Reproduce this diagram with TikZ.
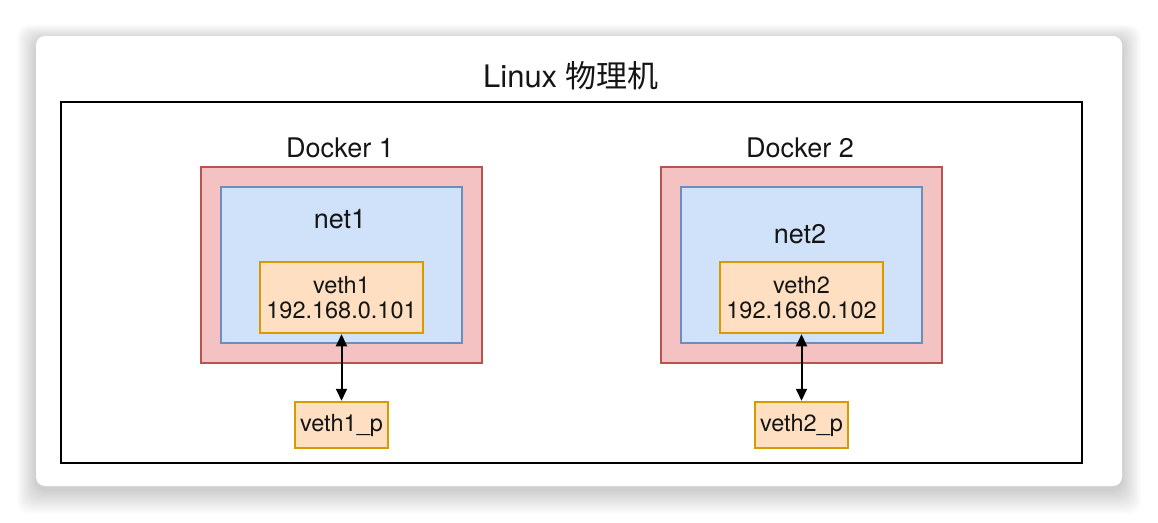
\documentclass[tikz,border=0pt]{standalone}
\usepackage{fontspec}
\setmainfont{TeX Gyre Heros}
\newfontfamily\cjk{Noto Sans CJK SC}
\usetikzlibrary{arrows.meta}
\definecolor{redfill}{HTML}{F4C2C2}
\definecolor{redline}{HTML}{B85450}
\definecolor{bluefill}{HTML}{D0E2F9}
\definecolor{blueline}{HTML}{6C8EBF}
\definecolor{orfill}{HTML}{FFDFC2}
\definecolor{orline}{HTML}{D79B00}
\definecolor{txt}{HTML}{151515}
\tikzset{
  dockerbox/.style={draw=redline, fill=redfill, line width=1.5pt},
  netbox/.style={draw=blueline, fill=bluefill, line width=1.5pt},
  vethbox/.style={draw=orline, fill=orfill, line width=1.5pt},
  bigtxt/.style={font=\fontsize{27}{30}\selectfont, text=txt, anchor=base, inner sep=0pt},
  vethtxt/.style={font=\fontsize{23.5}{25}\selectfont, text=txt, align=center, inner sep=0pt},
  link/.style={line width=2pt, {Triangle[length=12pt,width=11pt]}-{Triangle[length=12pt,width=11pt]}, shorten <=0.5pt, shorten >=0.5pt}
}
\begin{document}
\begin{tikzpicture}[x=1pt,y=-1pt]
\useasboundingbox (0,0) rectangle (1158,522);
% shadow of the card
\foreach \i in {1,...,24}{
  \pgfmathsetmacro{\xa}{36-0.8*\i}
  \pgfmathsetmacro{\ya}{40-0.65*\i}
  \pgfmathsetmacro{\xb}{1122+0.8*\i}
  \pgfmathsetmacro{\yb}{490+1.0*\i}
  \fill[black, opacity=0.009, rounded corners=12pt] (\xa,\ya) rectangle (\xb,\yb);
}
\fill[white, rounded corners=9pt] (36,36) rectangle (1122,486);
% host frame
\node[draw=black, line width=2pt, minimum width=1021pt, minimum height=361pt, inner sep=0pt] (host) at (571.5,282.5) {};
\node[font=\fontsize{31}{34}\selectfont, text=txt, anchor=base, inner sep=0pt] (title) at (571,87) {Linux {\cjk 物理机}};
% Docker 1
\node[dockerbox, minimum width=281pt, minimum height=196pt, inner sep=0pt] (d1) at (341.5,265) {};
\node[netbox, minimum width=241pt, minimum height=156pt, inner sep=0pt] (n1) at (341.5,265) {};
\node[vethbox, minimum width=163pt, minimum height=71pt, inner sep=0pt] (v1) at (341.5,297.5) {};
\node[vethtxt] (v1t) at (341.5,297.5) {veth1\\192.168.0.101};
\node[bigtxt] (d1t) at (340,157) {Docker 1};
\node[bigtxt] (n1t) at (340,228) {net1};
\node[vethbox, minimum width=93pt, minimum height=46pt, inner sep=0pt] (p1) at (341.5,425) {};
\node[vethtxt] (p1t) at (341.5,425) {veth1\_p};
\draw[link] (v1.south) -- (p1.north);
% Docker 2
\node[dockerbox, minimum width=281pt, minimum height=196pt, inner sep=0pt] (d2) at (801.5,265) {};
\node[netbox, minimum width=241pt, minimum height=156pt, inner sep=0pt] (n2) at (801.5,265) {};
\node[vethbox, minimum width=163pt, minimum height=71pt, inner sep=0pt] (v2) at (801.5,297.5) {};
\node[vethtxt] (v2t) at (801.5,297.5) {veth2\\192.168.0.102};
\node[bigtxt] (d2t) at (800,157) {Docker 2};
\node[bigtxt] (n2t) at (800,243) {net2};
\node[vethbox, minimum width=93pt, minimum height=46pt, inner sep=0pt] (p2) at (801.5,425) {};
\node[vethtxt] (p2t) at (801.5,425) {veth2\_p};
\draw[link] (v2.south) -- (p2.north);
\end{tikzpicture}
\end{document}
